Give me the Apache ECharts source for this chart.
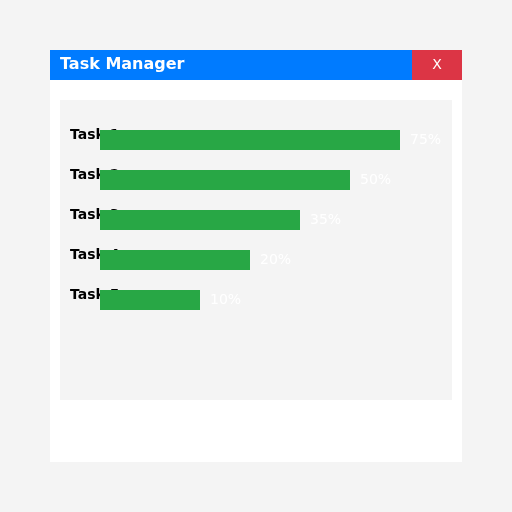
<!DOCTYPE html>
<html><head><meta charset="utf-8">
<script src="https://cdn.jsdelivr.net/npm/echarts@6/dist/echarts.min.js"></script>
<style>html,body{margin:0;padding:0;background:#f4f4f4}#c{width:512px;height:512px}</style>
</head><body><div id="c"></div>
<script>
const tasks = ['Task 1','Task 2','Task 3','Task 4','Task 5'];
const barLengths = [300, 250, 200, 150, 100];
const percentLabels = ['75%','50%','35%','20%','10%'];

const chart = echarts.init(document.getElementById('c'));
const graphics = [
  {type:'rect', shape:{x:50,y:50,width:412,height:412}, style:{fill:'#ffffff'}, z:-10},
  {type:'rect', shape:{x:50,y:50,width:362,height:30}, style:{fill:'#007bff'}, z:-9},
  {type:'rect', shape:{x:412,y:50,width:50,height:30}, style:{fill:'#dc3545'}, z:-9},
  {type:'text', x:60, y:65, style:{text:'Task Manager', fill:'#fff', font:'bold 16px "DejaVu Sans"', textVerticalAlign:'middle'}, z:-8},
  {type:'text', x:437, y:65, style:{text:'X', fill:'#fff', font:'14px "DejaVu Sans"', textAlign:'center', textVerticalAlign:'middle'}, z:-8},
  {type:'rect', shape:{x:60,y:100,width:392,height:300}, style:{fill:'#f4f4f4'}, z:-9}
];
tasks.forEach((t,i)=>graphics.push({type:'text', x:70, y:135+40*i, style:{text:t, fill:'#000', font:'bold 14px "DejaVu Sans"', textVerticalAlign:'middle'}, z:-8}));
chart.setOption({
  animation:false,
  backgroundColor:'#f4f4f4',
  graphic:graphics,
  grid:{left:100, top:120, width:350, height:200},
  xAxis:{type:'value', min:0, max:350, show:false},
  yAxis:{type:'category', data:tasks, inverse:true, show:false},
  series:[{type:'bar', data:barLengths, barWidth:20, z:5,
    itemStyle:{color:'#28a745'},
    label:{show:true, position:'right', distance:10, color:'#fff', fontSize:14, fontFamily:'DejaVu Sans',
      formatter:p=>percentLabels[p.dataIndex]}}]
});
</script></body></html>
